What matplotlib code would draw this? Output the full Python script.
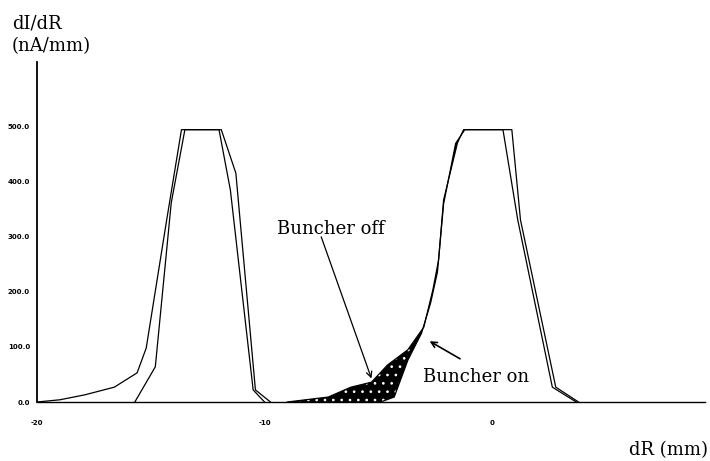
import numpy as np
import matplotlib
matplotlib.use("Agg")
import matplotlib.pyplot as plt

# dR in mm, dI/dR in nA/mm
left_off_dr = [-20.0, -19.0, -17.9, -16.6, -15.6, -15.2, -14.3, -13.65, -11.9, -11.26, -10.4, -9.74]
left_off_val = [0, 4, 13, 27, 53, 98, 331, 495, 495, 416, 22, 0]

left_on_dr = [-15.7, -14.8, -14.1, -13.5, -12.0, -11.5, -10.5, -10.0]
left_on_val = [0, 64, 362, 495, 495, 385, 22, 0]

right_off_dr = [-9.0, -7.2, -6.2, -5.3, -4.6, -3.7, -3.0, -2.6, -2.35, -2.13, -1.52, -1.25,
                0.87, 1.25, 2.8, 3.8]
right_off_val = [0, 9, 27, 36, 67, 95, 136, 204, 258, 367, 471, 495,
                 495, 331, 27, 0]

right_on_dr = [-4.9, -4.3, -3.7, -3.1, -2.7, -2.4, -2.13, -1.6, -1.2, 0.48, 1.13, 2.65, 3.7]
right_on_val = [0, 9, 76, 125, 180, 236, 360, 470, 495, 495, 331, 27, 0]

xticks = [-20, -10, 0]
xtick_labels = ["-20", "-10", "0"]
yticks = [0, 100, 200, 300, 400, 500]
ytick_labels = ["0.0", "100.0", "200.0", "300.0", "400.0", "500.0"]

serif = ["DejaVu Serif"]

fig = plt.figure(figsize=(7.1, 4.61), dpi=100)
ax = fig.add_axes([37 / 710, 59 / 461, 668 / 710, 340 / 461])
ax.set_xlim(-20, 9.36)
ax.set_ylim(0, 618)

lw = 0.9
ax.plot(left_off_dr, left_off_val, color="black", lw=lw)
ax.plot(left_on_dr, left_on_val, color="black", lw=lw)
ax.plot(right_off_dr, right_off_val, color="black", lw=lw)
ax.plot(right_on_dr, right_on_val, color="black", lw=lw)

# dark region between the two curves on the low side of the right peak
off_x = np.array(right_off_dr)
off_y = np.array(right_off_val)
on_x = np.array(right_on_dr)
on_y = np.array(right_on_val)
m1 = off_x <= -1.25
m2 = on_x <= -1.2
poly_x = np.concatenate([off_x[m1], on_x[m2][::-1]])
poly_y = np.concatenate([off_y[m1], on_y[m2][::-1]])
plt.rcParams["hatch.linewidth"] = 0.7
ax.fill(poly_x, poly_y, facecolor="black", edgecolor="white", hatch="..", lw=0)

for s in ["top", "right"]:
    ax.spines[s].set_visible(False)
ax.spines["left"].set_linewidth(1.3)
ax.spines["bottom"].set_linewidth(1.0)

ax.set_xticks(xticks)
ax.set_xticklabels(xtick_labels, fontsize=5, fontweight="bold")
ax.set_yticks(yticks)
ax.set_yticklabels(ytick_labels, fontsize=5, fontweight="bold")
ax.tick_params(axis="x", length=0, pad=13)
ax.tick_params(axis="y", length=0, pad=5)

fig.text(12 / 710, 1 - 28 / 461, "dI/dR", family=serif, fontsize=13)
fig.text(12 / 710, 1 - 51 / 461, "(nA/mm)", family=serif, fontsize=13)
fig.text(1 - 2 / 710, 1 - 455 / 461, "dR (mm)", family=serif, fontsize=13, ha="right")

ax.text(-7.09, 315, "Buncher off", family=serif, fontsize=13, ha="center", va="center")
ax.text(-0.7, 45, "Buncher on", family=serif, fontsize=13, ha="center", va="center")

ax.annotate("", xy=(-5.26, 38), xytext=(-7.55, 305),
            arrowprops=dict(arrowstyle="->", color="black", lw=0.9))
ax.annotate("", xy=(-2.85, 113), xytext=(-1.3, 76),
            arrowprops=dict(arrowstyle="->", color="black", lw=1.2))

fig.savefig("out.png", dpi=100)
